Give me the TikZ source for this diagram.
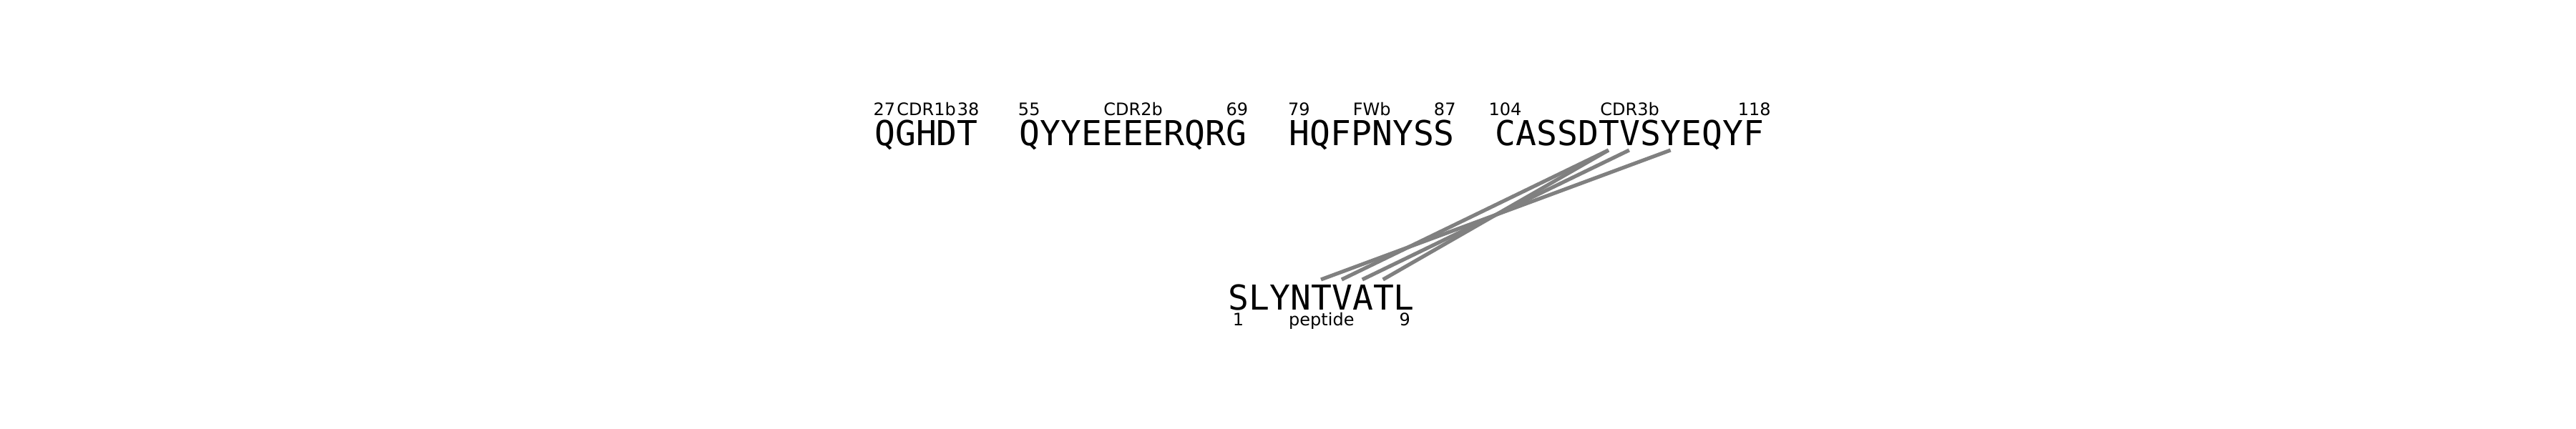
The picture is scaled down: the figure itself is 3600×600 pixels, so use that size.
\documentclass[tikz,border=0pt]{standalone}
\usepackage{fontspec}
\usetikzlibrary{calc}
\newfontfamily\seqfont{DejaVu Sans Mono}
\newfontfamily\lblfont{DejaVu Sans}
\definecolor{linkgray}{RGB}{128,128,128}
\tikzset{
  seq/.style={font=\seqfont\fontsize{12pt}{14pt}\selectfont, anchor=base west, inner sep=0pt, text=black},
  lbl/.style={font=\lblfont\fontsize{6pt}{7pt}\selectfont, inner sep=0pt, text=black, anchor=base},
  link/.style={draw=linkgray, line width=1.3pt}
}
\begin{document}
\begin{tikzpicture}[x=0.25pt, y=-0.25pt]
\useasboundingbox (0,0) rectangle (3600,600);
\def\pitch{7.224pt}
\def\half{3.612pt}
% top sequences
\node[seq] (s1) at (1221.5,203) {QGHDT};
\node[seq] (s2) at (1423.8,203) {QYYEEEERQRG};
\node[seq] (s3) at (1800.9,203) {HQFPNYSS};
\node[seq] (s4) at (2089.0,203) {CASSDTVSYEQYF};
% bottom sequence
\node[seq] (pep) at (1716,433) {SLYNTVATL};
% top labels: numbers centred on first / last residue, name centred on segment
\node[lbl] (a1) at ([xshift=\half, yshift=10.5pt]s1.base west) {27};
\node[lbl] (b1) at ([yshift=10.5pt]s1.base) {CDR1b};
\node[lbl] (c1) at ([xshift=-\half, yshift=10.5pt]s1.base east) {38};
\node[lbl] (a2) at ([xshift=\half, yshift=10.5pt]s2.base west) {55};
\node[lbl] (b2) at ([yshift=10.5pt]s2.base) {CDR2b};
\node[lbl] (c2) at ([xshift=-\half, yshift=10.5pt]s2.base east) {69};
\node[lbl] (a3) at ([xshift=\half, yshift=10.5pt]s3.base west) {79};
\node[lbl] (b3) at ([yshift=10.5pt]s3.base) {FWb};
\node[lbl] (c3) at ([xshift=-\half, yshift=10.5pt]s3.base east) {87};
\node[lbl] (a4) at ([xshift=\half, yshift=10.5pt]s4.base west) {104};
\node[lbl] (b4) at ([yshift=10.5pt]s4.base) {CDR3b};
\node[lbl] (c4) at ([xshift=-\half, yshift=10.5pt]s4.base east) {118};
% bottom labels
\node[lbl] (pa) at ([xshift=\half, yshift=-5.6pt]pep.base west) {1};
\node[lbl] (pb) at ([yshift=-5.6pt]pep.base) {peptide};
\node[lbl] (pc) at ([xshift=-\half, yshift=-5.6pt]pep.base east) {9};
% contact anchor points
\coordinate (t109) at ($(s4.base west)+(5.5*\pitch,-1.75pt)$);
\coordinate (t110) at ($(s4.base west)+(6.5*\pitch,-1.75pt)$);
\coordinate (t112) at ($(s4.base west)+(8.5*\pitch,-1.75pt)$);
\coordinate (p5) at ($(pep.base west)+(4.5*\pitch,10.5pt)$);
\coordinate (p6) at ($(pep.base west)+(5.5*\pitch,10.5pt)$);
\coordinate (p7) at ($(pep.base west)+(6.5*\pitch,10.5pt)$);
\coordinate (p8) at ($(pep.base west)+(7.5*\pitch,10.5pt)$);
% contacts
\draw[link] (t109) -- (p6);
\draw[link] (t109) -- (p8);
\draw[link] (t110) -- (p7);
\draw[link] (t112) -- (p5);
\end{tikzpicture}
\end{document}
